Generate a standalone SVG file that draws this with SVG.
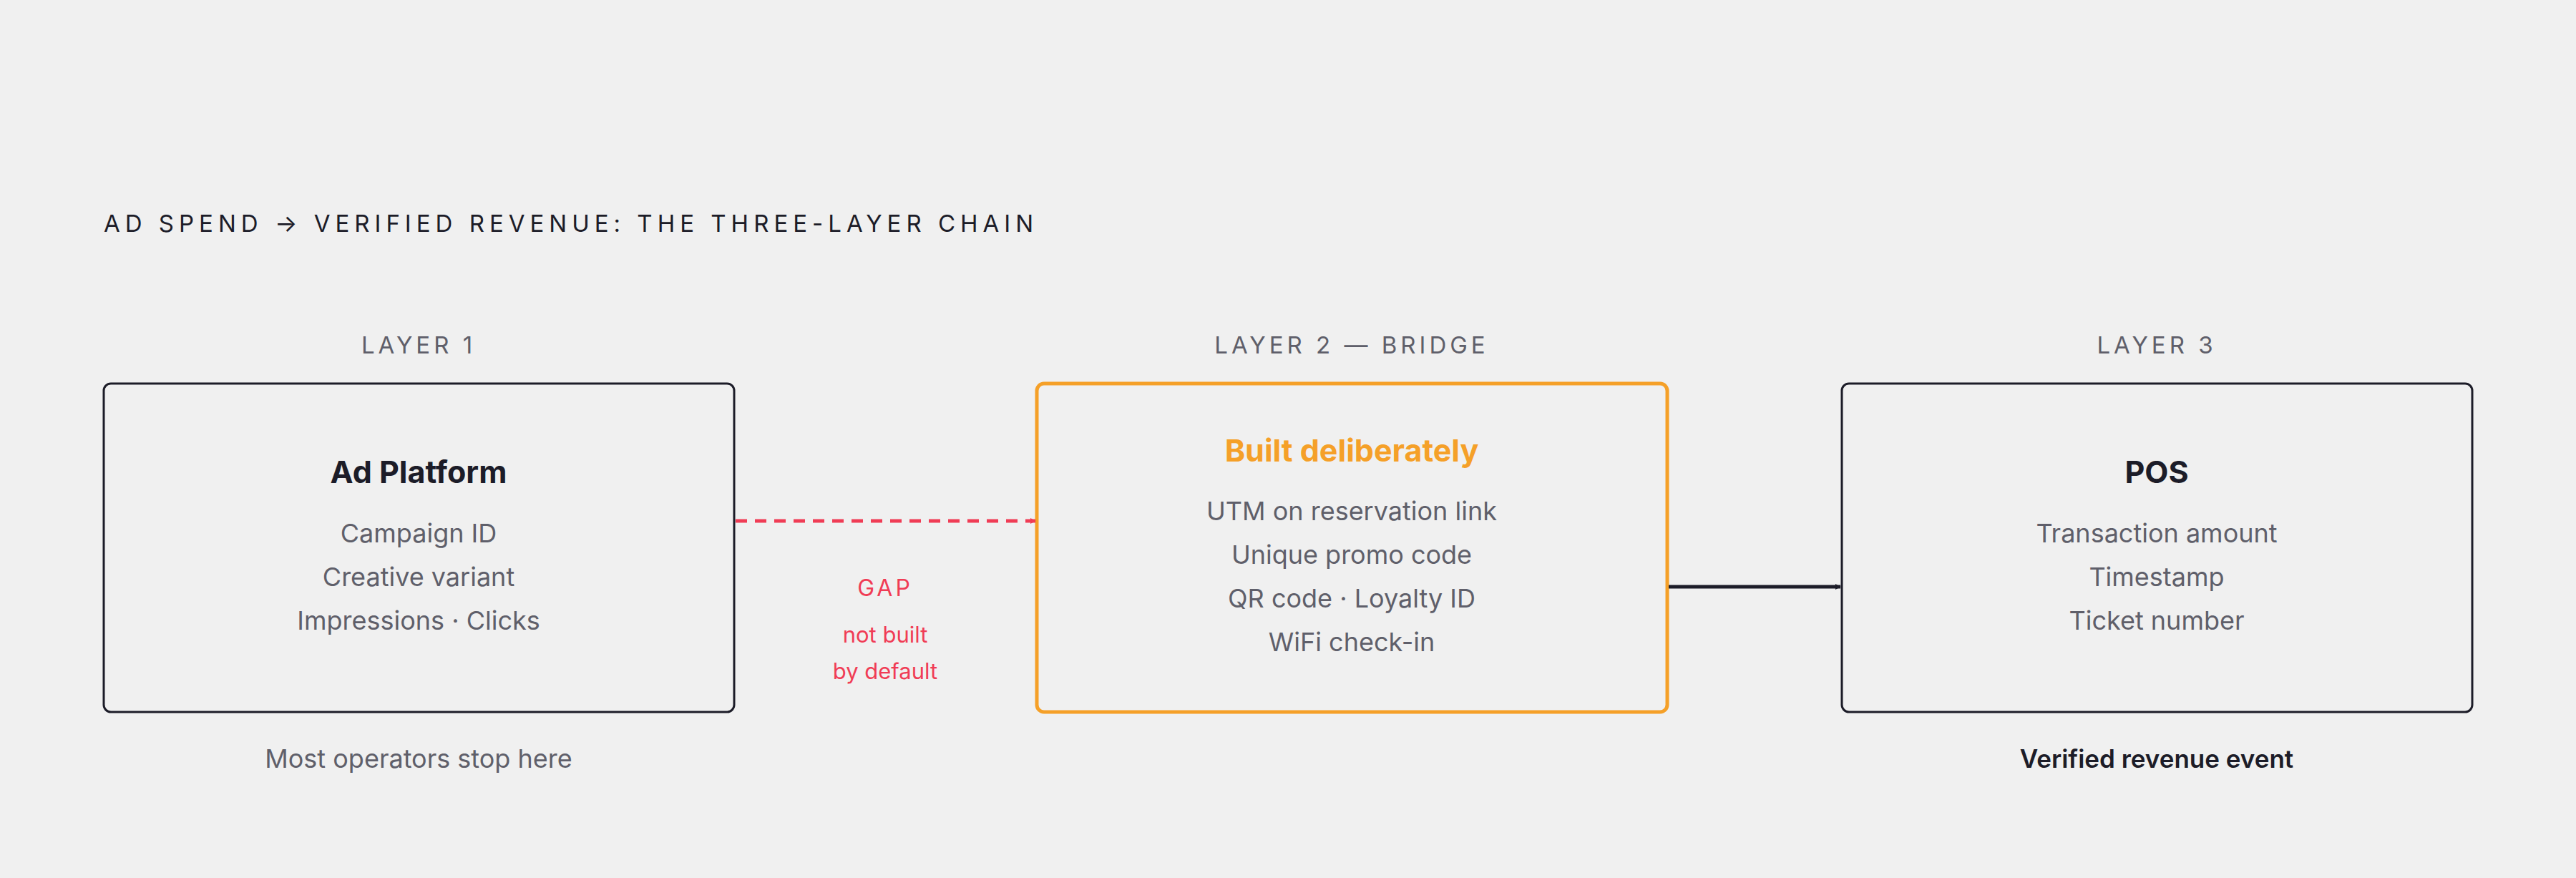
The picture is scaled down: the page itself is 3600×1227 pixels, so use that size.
<svg xmlns="http://www.w3.org/2000/svg" width="3600" height="1227" viewBox="0 0 3600 1227">
<defs>
<style>
text{font-family:Inter,"Liberation Sans",sans-serif}
.title{font-size:33px;letter-spacing:7px;fill:#1c1c28}
.layer{font-size:33px;letter-spacing:5px;fill:#5f5f6a;text-anchor:middle}
.head{font-size:43px;font-weight:700;fill:#1c1c28;text-anchor:middle}
.body{font-size:36px;fill:#5f5f6a;text-anchor:middle}
.box{fill:none;stroke:#1c1c28;stroke-width:3}
</style>
<marker id="ar" viewBox="0 0 10 10" refX="9" refY="5" markerWidth="8" markerHeight="8" markerUnits="userSpaceOnUse" orient="auto"><path d="M0,0L10,5L0,10z" fill="#f03c55"/></marker>
<marker id="ak" viewBox="0 0 10 10" refX="9" refY="5" markerWidth="8" markerHeight="8" markerUnits="userSpaceOnUse" orient="auto"><path d="M0,0L10,5L0,10z" fill="#1c1c28"/></marker>
</defs>
<rect width="3600" height="1227" fill="#f0f0f0"/>
<text class="title" x="145" y="324">AD SPEND → VERIFIED REVENUE: THE THREE-LAYER CHAIN</text>
<g id="layer1">
<text class="layer" x="585" y="494">LAYER 1</text>
<rect class="box" x="145" y="536" width="881" height="459" rx="10"/>
<text class="head" x="585" y="675">Ad Platform</text>
<text class="body" x="585" y="758">Campaign ID</text>
<text class="body" x="585" y="819">Creative variant</text>
<text class="body" x="585" y="880">Impressions · Clicks</text>
<text class="body" x="585" y="1073">Most operators stop here</text>
</g>
<g id="layer2">
<text class="layer" x="1889" y="494">LAYER 2 — BRIDGE</text>
<rect x="1449" y="536" width="881" height="459" rx="10" fill="none" stroke="#f5a028" stroke-width="5"/>
<text class="head" x="1889" y="645" fill="#f5a028" style="fill:#f5a028">Built deliberately</text>
<text class="body" x="1889" y="727">UTM on reservation link</text>
<text class="body" x="1889" y="788">Unique promo code</text>
<text class="body" x="1889" y="849">QR code · Loyalty ID</text>
<text class="body" x="1889" y="910">WiFi check-in</text>
</g>
<g id="layer3">
<text class="layer" x="3014" y="494">LAYER 3</text>
<rect class="box" x="2574" y="536" width="881" height="459" rx="10"/>
<text class="head" x="3014" y="675">POS</text>
<text class="body" x="3014" y="758">Transaction amount</text>
<text class="body" x="3014" y="819">Timestamp</text>
<text class="body" x="3014" y="880">Ticket number</text>
<text class="body" x="3014" y="1073" style="fill:#1c1c28;font-weight:600;font-size:35px">Verified revenue event</text>
</g>
<g id="connectors">
<line x1="1028" y1="728" x2="1447" y2="728" stroke="#f03c55" stroke-width="5" stroke-dasharray="16 11" marker-end="url(#ar)"/>
<line x1="2332" y1="820" x2="2572" y2="820" stroke="#1c1c28" stroke-width="5" marker-end="url(#ak)"/>
<text x="1237" y="833" text-anchor="middle" style="font-size:32px;letter-spacing:4px;fill:#f03c55">GAP</text>
<text x="1237" y="898" text-anchor="middle" style="font-size:31px;fill:#f03c55">not built</text>
<text x="1237" y="949" text-anchor="middle" style="font-size:31px;fill:#f03c55">by default</text>
</g>
</svg>
